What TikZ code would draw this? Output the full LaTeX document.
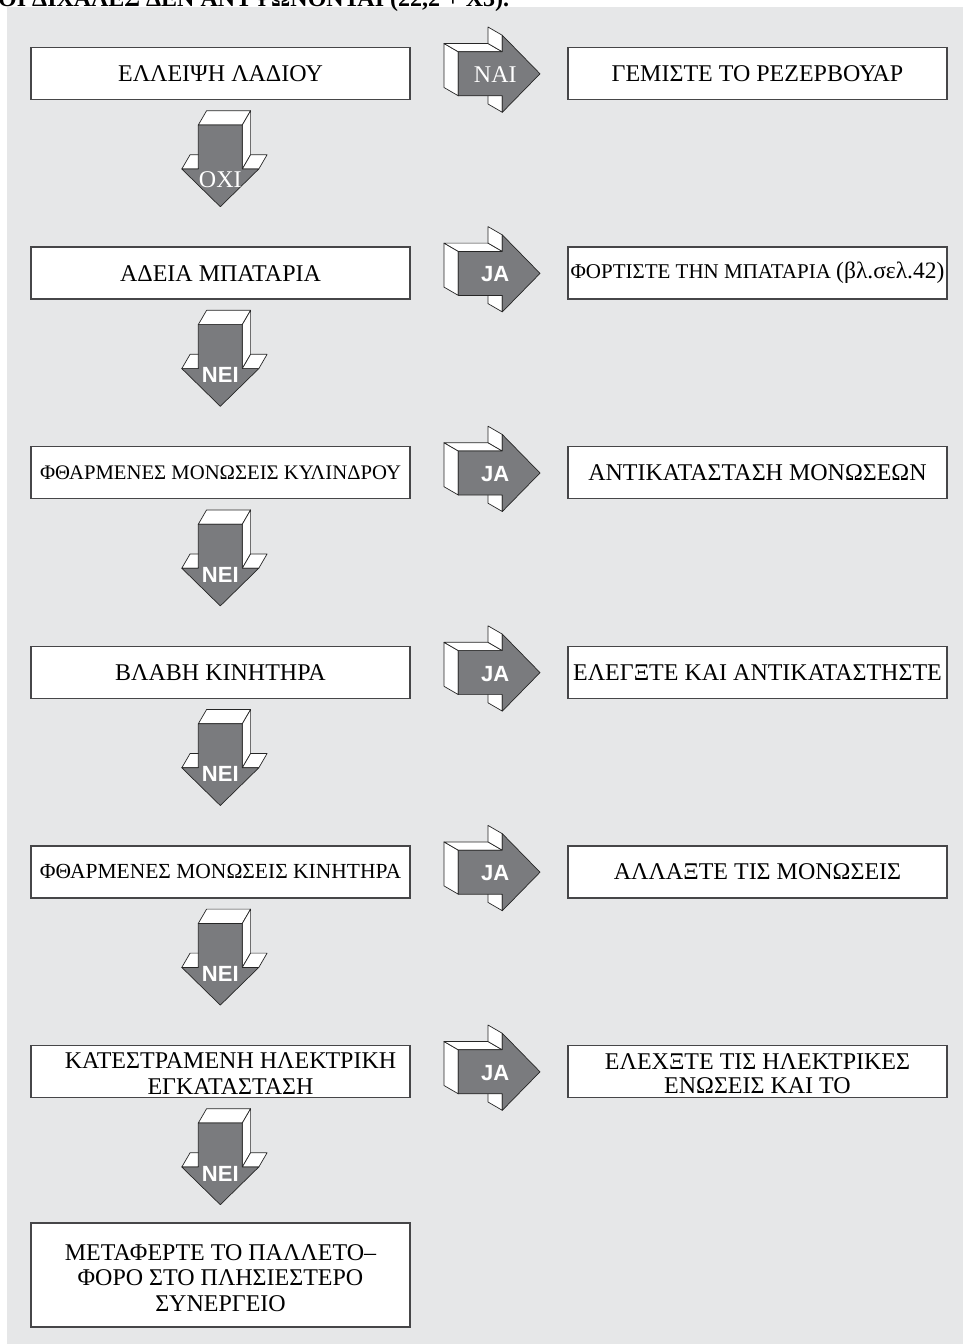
\documentclass[tikz,border=0pt]{standalone}
\usepackage{fontspec}
\setmainfont{Liberation Serif}
\setsansfont{Liberation Sans}
\definecolor{bg}{RGB}{230,231,232}
\definecolor{agray}{RGB}{122,123,126}
\definecolor{bline}{RGB}{70,70,72}
\newcommand{\fsz}[1]{\fontsize{#1}{#1}\selectfont}
% right-pointing block arrow: name, x0, c, label, label font
\newcommand{\rblock}[5]{%
  \begin{scope}[shift={(#2,#3)}]
    \filldraw[aface] (0,-22) -- (-14.3,-30.3) -- (-14.3,13.7) -- (0,22) -- cycle;
    \filldraw[aface] (0,-22) -- (-14.3,-30.3) -- (29.7,-30.3) -- (44,-22) -- cycle;
    \filldraw[aface] (44,-38.5) -- (29.7,-46.8) -- (29.7,-30.3) -- (44,-22) -- cycle;
    \filldraw[aface] (44,22) -- (29.7,13.7) -- (29.7,30.2) -- (44,38.5) -- cycle;
    \filldraw[afront] (0,-22) -- (44,-22) -- (44,-38.5) -- (81.7,0) -- (44,38.5) -- (44,22) -- (0,22) -- cycle;
    \node[alabel,font=#5] (#1) at (37,1) {#4};
  \end{scope}}
% down-pointing block arrow: name, cx, y0, label, label font, label offset
\newcommand{\dblock}[6]{%
  \begin{scope}[shift={(#2,#3)}]
    \filldraw[aface] (-22,0) -- (-13.7,-14.3) -- (30.3,-14.3) -- (22,0) -- cycle;
    \filldraw[aface] (22,0) -- (30.3,-14.3) -- (30.3,29.7) -- (22,44) -- cycle;
    \filldraw[aface] (-38.5,44) -- (-30.2,29.7) -- (-13.7,29.7) -- (-22,44) -- cycle;
    \filldraw[aface] (22,44) -- (30.3,29.7) -- (46.8,29.7) -- (38.5,44) -- cycle;
    \filldraw[afront] (-22,0) -- (22,0) -- (22,44) -- (38.5,44) -- (0,81.7) -- (-38.5,44) -- (-22,44) -- cycle;
    \node[alabel,font=#5] (#1) at (0,#6) {#4};
  \end{scope}}
\begin{document}
\begin{tikzpicture}[x=1pt,y=-1pt,
  aface/.style={fill=white,draw=black!85,line width=0.7pt,line join=round},
  afront/.style={fill=agray,draw=black!85,line width=0.7pt,line join=round},
  alabel/.style={text=white,inner sep=0pt},
  box/.style={draw=bline,line width=1.3pt,fill=white,minimum width=379pt,minimum height=52pt,inner sep=0pt,align=center,font=\fsz{24}},
]
\useasboundingbox (0,0) rectangle (963,1344);
\clip (0,0) rectangle (963,1344);
\fill[bg] (7,7) rectangle (963,1344);
\node[anchor=base west,inner sep=0pt,font=\bfseries\fsz{24}] (title) at (-2,6) {ΟΙ ΔΙΧΑΛΕΣ ΔΕΝ ΑΝΥΨΩΝΟΝΤΑΙ (22,2 + X3).};

% row 1
\node[box] (l1) at (220.5,73.5) {ΕΛΛΕΙΨΗ ΛΑΔΙΟΥ};
\node[box] (r1) at (757.5,73.5) {ΓΕΜΙΣΤΕ ΤΟ ΡΕΖΕΡΒΟΥΑΡ};
\rblock{a1}{458.3}{73.8}{ΝΑΙ}{\fsz{24}}
\dblock{d1}{220.3}{125}{ΟΧΙ}{\fsz{24}}{55}

% row 2
\node[box] (l2) at (220.5,273.1) {ΑΔΕΙΑ ΜΠΑΤΑΡΙΑ};
\node[box] (r2) at (757.5,273.1) {\fsz{21}ΦΟΡΤΙΣΤΕ ΤΗΝ ΜΠΑΤΑΡΙΑ {\fsz{23.5}(βλ.σελ.42)}};
\rblock{a2}{458.3}{273.4}{JA}{\sffamily\bfseries\fsz{22}}
\dblock{d2}{220.3}{324.6}{NEI}{\sffamily\bfseries\fsz{22}}{50.5}

% row 3
\node[box,font=\fsz{20.7}] (l3) at (220.5,472.7) {ΦΘΑΡΜΕΝΕΣ ΜΟΝΩΣΕΙΣ ΚΥΛΙΝΔΡΟΥ};
\node[box] (r3) at (757.5,472.7) {ΑΝΤΙΚΑΤΑΣΤΑΣΗ ΜΟΝΩΣΕΩΝ};
\rblock{a3}{458.3}{473.0}{JA}{\sffamily\bfseries\fsz{22}}
\dblock{d3}{220.3}{524.2}{NEI}{\sffamily\bfseries\fsz{22}}{50.5}

% row 4
\node[box] (l4) at (220.5,672.3) {ΒΛΑΒΗ ΚΙΝΗΤΗΡΑ};
\node[box,font=\fsz{24}] (r4) at (757.5,672.3) {ΕΛΕΓΞΤΕ ΚΑΙ ΑΝΤΙΚΑΤΑΣΤΗΣΤΕ};
\rblock{a4}{458.3}{672.6}{JA}{\sffamily\bfseries\fsz{22}}
\dblock{d4}{220.3}{723.8}{NEI}{\sffamily\bfseries\fsz{22}}{50.5}

% row 5
\node[box,font=\fsz{21.5}] (l5) at (220.5,871.9) {ΦΘΑΡΜΕΝΕΣ ΜΟΝΩΣΕΙΣ ΚΙΝΗΤΗΡΑ};
\node[box] (r5) at (757.5,871.9) {ΑΛΛΑΞΤΕ ΤΙΣ ΜΟΝΩΣΕΙΣ};
\rblock{a5}{458.3}{872.2}{JA}{\sffamily\bfseries\fsz{22}}
\dblock{d5}{220.3}{923.4}{NEI}{\sffamily\bfseries\fsz{22}}{50.5}

% row 6
\node[box,font=\fontsize{24}{26}\selectfont,text depth=0pt] (l6) at (220.5,1071.5) {\raisebox{0pt}[20pt][0pt]{}\hspace*{20pt}ΚΑΤΕΣΤΡΑΜΕΝΗ ΗΛΕΚΤΡΙΚΗ\\\hspace*{20pt}ΕΓΚΑΤΑΣΤΑΣΗ};
\node[box,font=\fontsize{24}{24}\selectfont] (r6) at (757.5,1071.5) {\raisebox{0pt}[20pt][0pt]{}ΕΛΕΧΞΤΕ ΤΙΣ ΗΛΕΚΤΡΙΚΕΣ\\ΕΝΩΣΕΙΣ ΚΑΙ ΤΟ};
\rblock{a6}{458.3}{1071.8}{JA}{\sffamily\bfseries\fsz{22}}
\dblock{d6}{220.3}{1123}{NEI}{\sffamily\bfseries\fsz{22}}{50.5}

% final
\node[box,minimum height=104pt,font=\fontsize{24}{25.5}\selectfont] (l7) at (220.5,1275) {\raisebox{0pt}[22pt][0pt]{}ΜΕΤΑΦΕΡΤΕ ΤΟ ΠΑΛΛΕΤΟ–\\ΦΟΡΟ ΣΤΟ ΠΛΗΣΙΕΣΤΕΡΟ\\ΣΥΝΕΡΓΕΙΟ};
\end{tikzpicture}
\end{document}
